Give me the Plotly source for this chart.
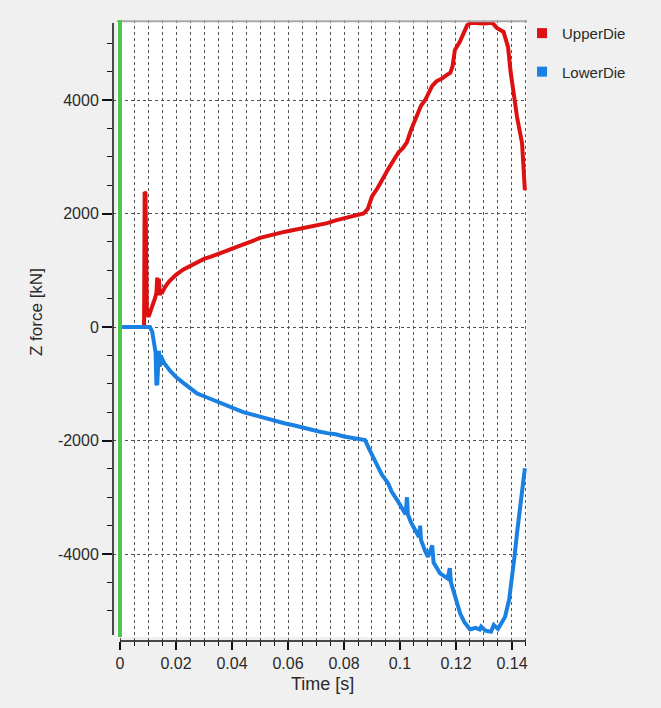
import plotly.graph_objects as go

# ---- data ----
upper_t = [0.0, 0.0086, 0.0088, 0.0091, 0.0092, 0.0094, 0.0096, 0.0102, 0.0108, 0.0114,
           0.0120, 0.0126, 0.0130, 0.0133, 0.0136, 0.0139, 0.0142, 0.0146, 0.0152, 0.0160,
           0.0175, 0.020, 0.0225, 0.025, 0.0275, 0.030, 0.0325, 0.035, 0.038, 0.041,
           0.044, 0.047, 0.050, 0.053, 0.056, 0.059, 0.062, 0.065, 0.068, 0.071,
           0.074, 0.077, 0.080, 0.0825, 0.085, 0.087, 0.0885, 0.090, 0.092, 0.094,
           0.096, 0.098, 0.0995, 0.101, 0.1025, 0.104, 0.106, 0.1075, 0.109, 0.110,
           0.1115, 0.113, 0.115, 0.117, 0.118, 0.1188, 0.1196, 0.1214, 0.1225, 0.124,
           0.1255, 0.1275, 0.130, 0.133, 0.1346, 0.137, 0.1386, 0.1395, 0.1402, 0.1418,
           0.1436, 0.1446]
upper_f = [0, 0, 2380, 2360, 1900, 700, 250, 180, 260, 320,
           420, 520, 600, 870, 700, 850, 560, 640, 620, 700,
           800, 920, 1010, 1080, 1140, 1200, 1240, 1280, 1340, 1400,
           1450, 1510, 1570, 1610, 1650, 1680, 1710, 1740, 1780, 1800,
           1830, 1880, 1920, 1950, 1980, 2000, 2080, 2300, 2450, 2640,
           2800, 2960, 3080, 3150, 3260, 3480, 3720, 3900, 4000, 4100,
           4250, 4330, 4380, 4450, 4480, 4600, 4880, 5030, 5150, 5320,
           5360, 5350, 5350, 5360, 5270, 5200, 4930, 4500, 4230, 3700,
           3240, 2410]

lower_t = [0.0, 0.0107, 0.0115, 0.0122, 0.0127, 0.0130, 0.0133, 0.0136, 0.0139, 0.0142,
           0.0146, 0.0152, 0.016, 0.018, 0.020, 0.0225, 0.025, 0.0275, 0.030, 0.0325,
           0.035, 0.038, 0.041, 0.044, 0.047, 0.050, 0.053, 0.056, 0.059, 0.062,
           0.065, 0.068, 0.071, 0.074, 0.077, 0.080, 0.0825, 0.085, 0.0875, 0.089,
           0.0905, 0.092, 0.0935, 0.0957, 0.097, 0.099, 0.101, 0.102, 0.1025, 0.1028,
           0.104, 0.106, 0.1068, 0.1072, 0.1075, 0.109, 0.110, 0.1115, 0.112, 0.1143,
           0.117, 0.1178, 0.1182, 0.120, 0.1215, 0.123, 0.125, 0.127, 0.1285, 0.129,
           0.1305, 0.1325, 0.1335, 0.135, 0.1365, 0.1375, 0.139, 0.140, 0.141, 0.1418,
           0.143, 0.1446]
lower_f = [0, 0, -80, -250, -450, -1000, -1020, -700, -420, -700,
           -500, -580, -650, -780, -880, -980, -1080, -1170, -1220, -1270,
           -1320, -1390, -1450, -1500, -1540, -1580, -1620, -1670, -1700, -1730,
           -1770, -1810, -1840, -1870, -1890, -1930, -1950, -1960, -1990, -2150,
           -2310, -2450, -2600, -2750, -2900, -3050, -3220, -3300, -3000, -3300,
           -3450, -3630, -3700, -3500, -3750, -3950, -4050, -3850, -4150, -4340,
           -4430, -4250, -4500, -4800, -5050, -5200, -5330, -5300, -5330, -5280,
           -5350, -5370, -5250, -5320, -5200, -5110, -4800, -4460, -4000, -3630,
           -3100, -2490]

x_tickvals = [0, 0.02, 0.04, 0.06, 0.08, 0.1, 0.12, 0.14]
x_ticktext = ["0", "0.02", "0.04", "0.06", "0.08", "0.1", "0.12", "0.14"]
x_minor = [i * 0.005 for i in range(0, 30)]
y_tickvals = [-4000, -2000, 0, 2000, 4000]
y_ticktext = ["-4000", "-2000", "0", "2000", "4000"]
y_minor = [v for v in range(-5000, 5001, 500)]

RED = "#dd1111"
BLUE = "#1a80e2"
GREEN = "#4cc84c"
BG = "#f0f0f0"
FONT = "Liberation Sans"

fig = go.Figure()
fig.add_trace(go.Scatter(x=upper_t, y=upper_f, mode="lines", line=dict(color=RED, width=4),
                         showlegend=False, hoverinfo="skip"))
fig.add_trace(go.Scatter(x=lower_t, y=lower_f, mode="lines", line=dict(color=BLUE, width=4),
                         showlegend=False, hoverinfo="skip"))
# legend entries with square symbols
fig.add_trace(go.Scatter(x=[None], y=[None], mode="markers", name="UpperDie", legendgroup="a",
                         marker=dict(symbol="square", size=10, color=RED)))
fig.add_trace(go.Scatter(x=[None], y=[None], mode="markers", name="LowerDie", legendgroup="b",
                         marker=dict(symbol="square", size=10, color=BLUE)))

fig.update_layout(
    width=661, height=708,
    margin=dict(l=113, r=134, t=20, b=67),
    paper_bgcolor=BG, plot_bgcolor=BG,
    font=dict(family=FONT, size=16, color="#2a2a2a"),
    legend=dict(x=0.988, y=1.005, xanchor="left", yanchor="top", bgcolor="rgba(0,0,0,0)",
                font=dict(family=FONT, size=15, color="#2a2a2a"), tracegroupgap=16),
    xaxis=dict(range=[-0.0025, 0.14536], showline=False, zeroline=False,
               tickmode="array", tickvals=x_tickvals, ticktext=x_ticktext,
               ticks="outside", ticklen=8, tickwidth=1.5, tickcolor="#111111",
               showgrid=True, gridcolor="#555555", gridwidth=1, griddash="dot",
               minor=dict(tickmode="array", tickvals=x_minor, ticks="outside", ticklen=4,
                          tickwidth=1.2, tickcolor="#111111", showgrid=True,
                          gridcolor="#555555", gridwidth=1, griddash="dot"),
               tickfont=dict(family=FONT, size=16, color="#2a2a2a")),
    yaxis=dict(range=[-5533, 5410], showline=False, zeroline=False,
               tickmode="array", tickvals=y_tickvals, ticktext=y_ticktext,
               ticks="outside", ticklen=10, tickwidth=1.5, tickcolor="#111111",
               showgrid=True, gridcolor="#555555", gridwidth=1, griddash="dot",
               minor=dict(tickmode="array", tickvals=y_minor, ticks="outside", ticklen=5,
                          tickwidth=1.2, tickcolor="#111111", showgrid=False),
               tickfont=dict(family=FONT, size=16, color="#2a2a2a")),
    shapes=[
        dict(type="rect", xref="paper", yref="paper", x0=4/414, x1=1, y0=4/621, y1=1,
             fillcolor="white", line=dict(width=0), layer="below"),
        dict(type="line", xref="paper", yref="paper", x0=4/414, x1=1, y0=0.998, y1=0.998,
             line=dict(color="#a8a8a8", width=2)),
        dict(type="line", xref="x", yref="paper", x0=0, x1=0, y0=4/621, y1=1,
             line=dict(color=GREEN, width=4), layer="above"),
        dict(type="line", xref="paper", yref="y", x0=0, x1=0, y0=-5427, y1=5357,
             line=dict(color="#111111", width=1.5)),
        dict(type="line", xref="x", yref="paper", x0=0, x1=0.145, y0=0, y1=0,
             line=dict(color="#111111", width=1.5)),
    ],
    annotations=[
        dict(text="Time [s]", xref="paper", yref="paper", x=0.507, y=-0.0692,
             showarrow=False, font=dict(family=FONT, size=18, color="#2a2a2a"),
             xanchor="center", yanchor="middle"),
        dict(text="Z force [kN]", xref="paper", yref="paper", x=-0.1836, y=0.5298,
             showarrow=False, textangle=-90, font=dict(family=FONT, size=17, color="#2a2a2a"),
             xanchor="center", yanchor="middle"),
    ],
)

fig.write_html("out.html")
